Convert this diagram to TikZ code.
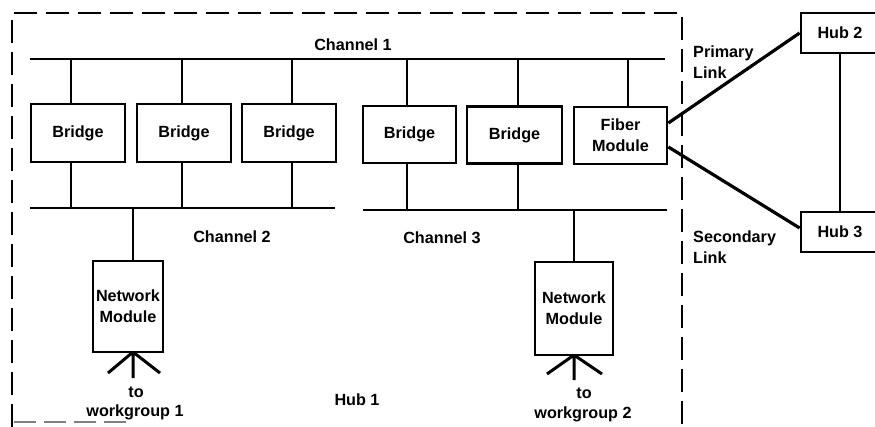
\documentclass[tikz,border=0pt]{standalone}
\usepackage{fontspec}
\setmainfont{Liberation Sans}
\usetikzlibrary{calc}
\begin{document}
\begin{tikzpicture}[x=1pt,y=-1pt,
  box/.style={draw,line width=2.8pt,minimum width=#1,inner sep=0pt,align=center,
    font=\bfseries\fontsize{16.2}{21}\selectfont},
  lbl/.style={inner sep=0pt,align=center,font=\bfseries\fontsize{16.2}{21}\selectfont},
  bus/.style={line width=2.5pt},
  wire/.style={line width=2.1pt},
  link/.style={line width=3.2pt},
  fan/.style={line width=3pt},
  hubedge/.style={line width=2.8pt,dash pattern=on 23pt off 9pt}]
\useasboundingbox (0,0) rectangle (875,427);

% Hub 1 enclosure
\draw[hubedge] (12,427) -- (12,13) -- (682,13) -- (682,427);
\draw[gray,line width=1.2pt,dash pattern=on 22pt off 8pt] (14,422) -- (130,422);

% channels
\coordinate (c1w) at (30,59);  \coordinate (c1e) at (665,59);
\coordinate (c2w) at (30,208); \coordinate (c2e) at (335,208);
\coordinate (c3w) at (363,210); \coordinate (c3e) at (667,210);
\draw[bus] (c1w) -- (c1e);
\draw[bus] (c2w) -- (c2e);
\draw[bus] (c3w) -- (c3e);
\node[lbl] (l1) at (353,45) {Channel 1};
\node[lbl] (l2) at (232,237) {Channel 2};
\node[lbl] (l3) at (442,238) {Channel 3};

% bridges and fiber module
\node[box=94pt,minimum height=58pt] (b1) at (78,133) {Bridge};
\node[box=94pt,minimum height=58pt] (b2) at (184,133) {Bridge};
\node[box=94pt,minimum height=58pt] (b3) at (289,133) {Bridge};
\node[box=93pt,minimum height=57pt] (b4) at (409.5,134.5) {Bridge};
\node[box=95pt,minimum height=57pt] (b5) at (514.5,135) {Bridge};
\node[box=93pt,minimum height=57pt] (fm) at (620.5,135.5) {Fiber\\Module};

% taps on channel 1 and channels 2/3
\foreach \n/\x in {b1/71,b2/182,b3/292,b4/407,b5/518,fm/628}{
  \coordinate (t\n) at (\x,59);
  \draw[wire] (t\n) -- (t\n |- \n.north);
}
\foreach \n/\x in {b1/71,b2/182,b3/292}{
  \coordinate (u\n) at (\x,208);
  \draw[wire] (\n.south -| u\n) -- (u\n);
}
\foreach \n/\x in {b4/407,b5/518}{
  \coordinate (u\n) at (\x,210);
  \draw[wire] (\n.south -| u\n) -- (u\n);
}

% network modules
\node[box=70pt,minimum height=91pt] (nm1) at (128,306.5) {Network\\Module};
\node[box=78pt,minimum height=93pt] (nm2) at (574,308.5) {Network\\Module};
\coordinate (d1) at (133,208);
\coordinate (d2) at (574,210);
\draw[wire] (d1) -- (d1 |- nm1.north);
\draw[wire] (d2) -- (d2 |- nm2.north);

% workgroup fan-outs
\coordinate (a1) at (133,352);
\coordinate (a2) at (574,355);
\draw[fan] (a1) -- ++(0,26) (a1) -- ++(-25,21) (a1) -- ++(27,21);
\draw[fan] (a2) -- ++(0,25) (a2) -- ++(-27,19) (a2) -- ++(28,19);
\node[lbl] (w1a) at (136,392) {to};
\node[lbl] (w1b) at (135,412) {workgroup 1};
\node[lbl] (w2a) at (584,393) {to};
\node[lbl] (w2b) at (583,414) {workgroup 2};
\node[lbl] (h1) at (357,400) {Hub 1};

% remote hubs
\node[box=78pt,minimum height=40pt] (hub2) at (840,33) {Hub 2};
\node[box=78pt,minimum height=40pt] (hub3) at (840,232) {Hub 3};
\draw[wire] (hub2) -- (hub3);
\draw[link] ($(fm.east)+(0,-12.5)$) -- (hub2.west);
\draw[link] ($(fm.east)+(0,11.5)$) -- ($(hub3.west)+(0,-4)$);
\node[lbl,anchor=west,align=left] (pl) at (693,62) {Primary\\Link};
\node[lbl,anchor=west,align=left] (sl) at (693,247) {Secondary\\Link};
\end{tikzpicture}
\end{document}
